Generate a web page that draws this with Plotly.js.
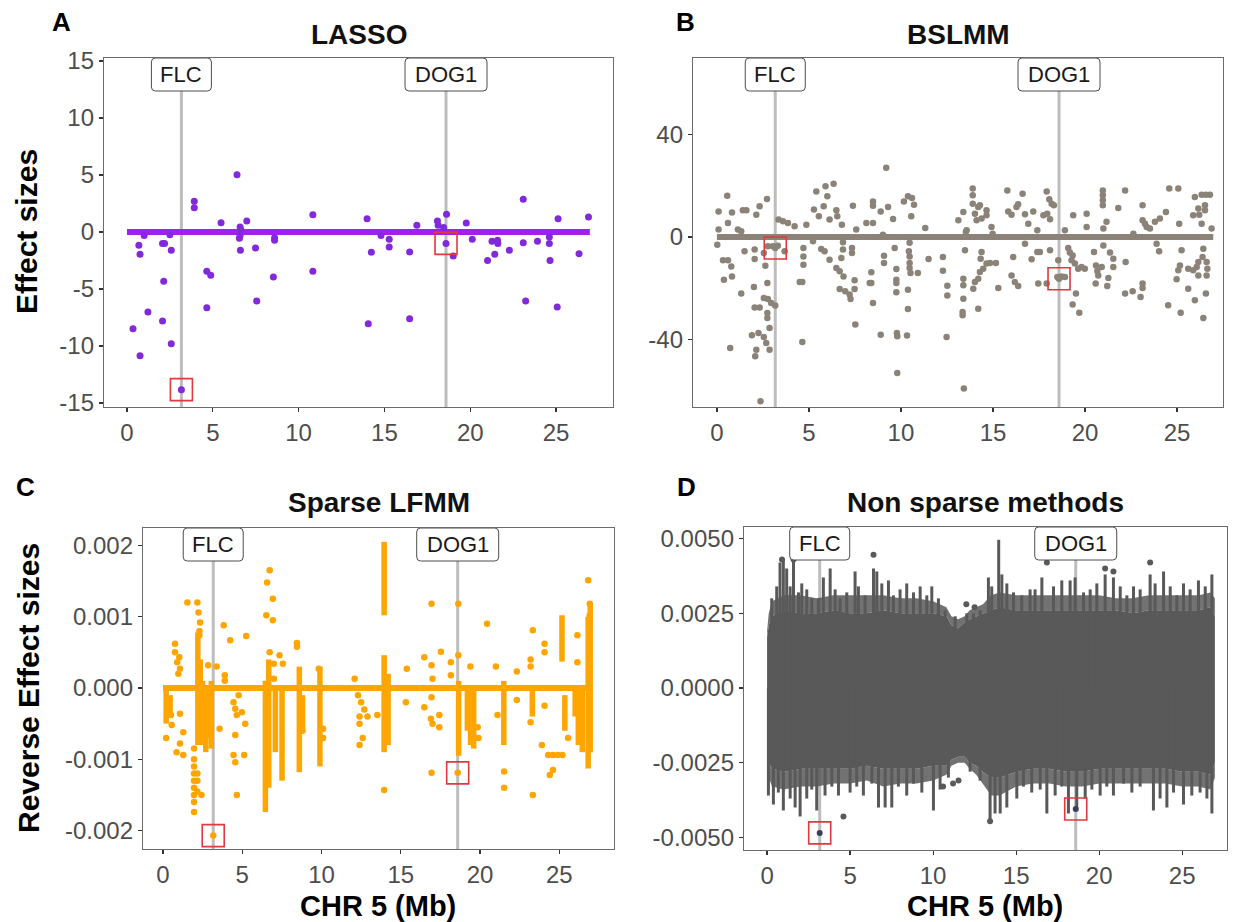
<!DOCTYPE html>
<html><head><meta charset="utf-8">
<script src="https://cdn.plot.ly/plotly-3.0.1.min.js"></script>
<style>html,body{margin:0;padding:0;background:#fff}#chart{width:1238px;height:922px}</style>
</head><body><div id="chart"></div>
<script>
// ================= DATA =================
const xTickVals = [0, 5, 10, 15, 20, 25];
const xTickText = ["0", "5", "10", "15", "20", "25"];
const genes = ["FLC", "DOG1"];
const genePos = [3.17, 18.59];
const chrSpan = [0, 26.97];

const panelTitles = ["LASSO", "BSLMM", "Sparse LFMM", "Non sparse methods"];
const panelLetters = ["A", "B", "C", "D"];

// --- A: LASSO ---
const lassoTickVals = [-15, -10, -5, 0, 5, 10, 15];
const lassoTickText = ["-15", "-10", "-5", "0", "5", "10", "15"];
const lassoX = [0.69,0.76,0.35,0.76,1.22,2.07,2.19,2.14,2.07,2.58,
  2.58,3.92,3.92,4.65,4.88,4.65,5.48,6.41,6.59,6.59,
  6.55,6.63,6.61,6.98,7.49,7.56,8.53,8.6,8.6,10.83,
  10.83,13.99,14.06,14.24,15.28,15.28,16.47,16.47,16.89,18.09,
  18.13,18.62,19.01,19.77,20.12,21.01,21.27,21.43,21.59,21.61,
  22.28,23.09,23.09,23.23,23.92,24.61,24.61,24.65,25.12,25.07,
  26.34,26.89,1.0,2.5,14.8,18.45];
const lassoY = [-1.17,-1.96,-8.48,-10.85,-7.02,-1.02,-1.02,-4.33,-7.81,-1.61,
  -9.8,2.69,2.13,-3.45,-3.8,-6.64,0.82,5.03,0.44,-0.3,
  -0.55,0.2,-1.61,0.96,-1.4,-6.05,-3.95,-0.5,-0.73,1.52,
  -3.45,1.17,-8.04,-1.78,-0.64,-1.32,-1.75,-7.6,0.58,0.96,
  0.58,1.55,-2.1,0.79,-0.64,-2.49,-0.82,-1.96,-0.73,-1.02,
  -1.61,2.87,-0.94,-6.05,-0.82,-0.44,-1.02,-2.49,1.17,-6.58,
  -1.9,1.32,-0.3,-0.25,-0.3,0.4];
const lassoHitY = [-13.83, -1.0];

// --- B: BSLMM ---
const bslmmTickVals = [-40, 0, 40];
const bslmmTickText = ["-40", "0", "40"];
const bslmmX = [0.56,0.09,0.09,0.02,0.6,0.82,1.41,1.6,1.14,1.32,
  0.33,0.6,0.78,0.38,0.82,1.32,0.72,1.5,2.05,2.05,
  2.01,2.14,2.32,2.72,2.55,2.63,2.74,2.05,2.32,2.55,
  2.77,2.95,3.17,2.74,2.74,2.86,1.9,2.26,2.55,2.68,
  2.86,2.14,2.08,2.37,2.77,3.04,3.31,3.68,3.35,3.59,
  3.86,4.22,4.7,4.7,4.7,4.5,4.64,4.64,4.86,5.22,
  5.4,5.27,5.54,5.8,5.9,6.0,6.34,5.67,5.85,6.12,
  6.12,6.49,6.54,6.79,6.85,6.85,6.76,6.49,6.67,6.88,
  6.67,6.97,7.21,7.26,7.34,7.34,7.39,7.48,7.48,7.52,
  7.57,8.12,8.48,8.48,8.48,8.39,8.39,8.48,8.3,8.9,
  8.9,9.02,9.08,9.08,9.3,9.2,9.57,9.66,9.75,9.75,
  9.75,9.75,9.78,9.8,9.8,10.16,10.38,10.6,10.71,10.56,
  10.47,10.43,10.47,10.47,10.47,10.52,10.92,10.38,10.38,10.33,
  11.32,11.5,12.28,12.28,12.52,12.52,12.48,
  13.39,13.39,13.39,13.35,13.35,13.42,13.12,13.39,13.53,13.48,
  13.57,13.9,13.9,13.9,14.02,14.2,14.29,14.38,14.11,13.93,
  14.02,14.2,14.29,14.47,14.33,14.38,14.65,14.84,15.16,14.65,
  14.65,14.2,14.92,14.98,15.29,15.78,15.83,16.01,16.1,16.01,
  16.19,16.37,16.37,16.28,16.61,16.74,16.74,16.92,17.1,17.19,
  17.41,17.41,17.55,17.46,17.92,18.06,18.19,18.31,17.74,17.95,
  18.1,18.1,18.55,18.5,18.73,18.91,17.92,18.91,19.09,19.18,
  19.33,19.27,19.45,19.63,19.81,19.99,19.36,19.51,19.33,19.69,
  20.09,20.09,20.49,20.6,20.67,20.72,20.58,20.91,21.0,20.97,
  20.97,20.97,20.97,21.0,21.17,21.27,21.21,21.36,21.54,21.54,
  21.81,22.18,22.21,22.18,22.59,22.63,23.13,23.13,23.26,23.35,
  23.13,23.13,23.02,23.53,23.8,24.07,24.4,24.03,23.89,24.58,
  25.07,25.12,24.52,24.98,25.07,25.16,25.25,25.2,25.61,25.61,
  25.97,25.88,25.97,26.16,26.21,26.34,26.57,26.79,26.52,26.52,
  26.34,26.43,26.39,26.16,26.07,25.88,26.16,26.61,26.65,26.61,
  26.57,26.43,26.88];
const bslmmY = [16.1,10.0,2.9,-3.0,5.5,9.6,10.4,10.4,2.9,2.2,
  -9.1,-9.1,-11.5,-16.7,-15.4,-22.1,-43.4,-5.6,-4.9,-8.6,
  -19.5,8.7,12.0,14.8,-6.3,-11.2,-18.0,-27.5,-27.5,-23.8,
  -24.2,-25.8,-26.8,-29.7,-31.6,-35.5,-38.4,-37.5,-39.1,-41.4,
  -44.0,-44.0,-46.6,-64.2,-3.6,-3.6,-3.4,-5.6,6.8,6.1,
  5.5,4.2,-4.3,-7.6,-10.8,-17.6,-17.6,-41.0,4.8,-1.7,
  17.8,10.7,8.1,12.0,19.8,15.9,20.8,-4.7,-5.6,-8.9,
  6.8,10.4,8.1,4.8,-2.1,-4.9,-8.2,-12.1,-13.4,-15.4,
  -20.3,-21.2,-22.5,-24.2,-4.3,-6.3,12.2,-16.9,-20.3,-34.2,
  2.9,5.5,13.9,12.2,5.5,-13.8,-18.0,-25.8,-18.0,10.0,
  -38.2,0.9,-7.3,-10.2,11.7,27.0,7.0,-4.3,-12.5,-16.7,
  -18.0,-21.6,-37.5,-38.8,-53.1,13.9,15.9,15.2,12.6,8.1,
  -2.3,-5.6,-7.6,-10.2,-12.1,-14.1,-14.1,-20.6,-28.1,-38.5,
  3.5,-8.6,-7.8,-13.2,-19.0,-22.9,-39.1,
  -16.3,-18.9,-24.1,-29.3,-30.6,-59.2,6.5,9.8,2.0,-5.2,
  2.6,18.9,16.3,13.0,9.1,11.7,12.4,7.2,6.5,-20.2,
  -17.6,-16.3,-13.7,-12.4,-8.5,-5.9,-10.4,-10.2,-10.2,10.4,
  8.5,-28.0,3.9,1.3,-19.9,18.2,10.0,8.7,-7.8,-15.0,
  -17.6,-19.1,12.8,11.7,16.9,8.9,-2.6,5.2,-8.7,10.0,
  2.6,-5.9,-5.9,-18.2,17.8,14.7,13.0,12.4,8.5,9.1,
  6.9,-5.2,-9.1,-15.6,-15.4,-15.6,-18.2,2.6,-4.3,-6.1,
  -7.2,-9.1,-10.4,-12.4,-11.7,-12.4,8.5,-22.1,-26.4,-29.6,
  9.1,3.9,-5.9,-11.1,-13.3,-15.0,-18.2,-11.7,-3.3,18.2,
  16.3,14.3,12.4,3.3,5.9,-16.0,-19.1,-6.1,-8.5,-11.7,
  11.3,18.2,-9.8,-22.1,-21.2,1.3,12.4,6.5,5.2,3.9,
  -18.2,-19.9,-23.4,3.3,5.9,7.2,9.8,-5.6,-2.6,18.9,
  18.9,5.2,-26.7,-16.5,-13.0,-11.1,-5.2,-29.6,-12.4,-20.2,
  -24.7,8.5,15.6,11.1,8.7,16.5,16.5,16.5,12.4,10.4,
  5.2,-4.6,-7.8,-9.8,-11.7,-13.0,-15.0,-9.8,-12.4,-15.0,
  -22.1,-31.6,3.3];
const bslmmHitY = [-4.3, -16.3];

// --- C: Sparse LFMM ---
const lfmmTickVals = [-0.002, -0.001, 0, 0.001, 0.002];
const lfmmTickText = ["-0.002", "-0.001", "0.000", "0.001", "0.002"];
const lfmmX = [0.76,0.76,0.9,1.03,1.07,0.97,0.86,1.07,1.28,1.28,
  1.07,0.2,0.55,0.5,1.54,2.17,2.24,2.34,2.3,2.3,
  1.96,1.96,1.96,1.96,1.96,1.96,1.96,1.96,1.96,2.17,
  2.17,2.17,2.43,2.85,3.38,3.57,3.83,3.9,3.9,4.24,
  4.45,4.56,4.66,4.56,4.45,4.56,4.66,4.77,4.98,5.19,
  5.25,5.12,6.57,6.73,6.52,6.93,6.93,6.73,6.99,7.35,
  7.56,7.0,8.45,8.45,8.8,9.83,10.1,10.1,12.09,12.3,
  12.5,12.7,12.9,12.4,12.4,12.4,12.6,13.52,13.95,15.38,
  15.32,16.48,16.48,16.94,16.94,17.0,16.94,16.94,17.53,17.43,
  17.43,16.9,17.0,18.16,18.16,18.63,18.63,19.39,20.44,21.0,
  21.1,21.52,21.52,22.32,22.32,23.19,23.19,23.33,23.19,23.33,
  23.9,24.07,24.07,24.07,24.3,24.6,24.9,25.2,24.6,24.4,
  25.55,26.14,26.14,26.82,26.92,26.92,19.85,19.9];
const lfmmY = [0.00062,0.0005,0.00036,0.00043,0.00027,0.0002,-0.0009,-0.00078,-0.00094,-0.00062,
  -0.00036,-0.0007,-0.00052,-0.00038,0.0012,0.0012,0.00106,0.00092,0.0008,0.00074,
  -0.00085,-0.001,-0.0011,-0.0012,-0.0013,-0.0014,-0.0015,-0.0016,-0.00174,-0.0012,
  -0.0013,-0.00145,-0.0015,0.00032,0.0003,-0.00057,0.00088,0.00018,0.0001,0.00067,
  -0.0002,-0.00029,-0.00038,-0.00066,-0.00094,-0.00104,-0.0015,-0.0001,-0.00034,-0.0005,
  0.00073,-0.00094,0.00148,0.00165,0.00102,0.00095,0.00125,0.0005,0.00034,0.00046,
  0.00034,0.00013,0.00063,0.00058,-0.0006,0.00027,-0.00057,-0.0007,0.00013,-0.0001,
  -0.0002,-0.0003,-0.0004,-0.0004,-0.0005,-0.0008,-0.0007,-0.00038,-0.00143,0.00027,
  -0.0002,0.00043,-0.00027,0.00118,0.00032,0.00013,-0.00013,-0.00119,0.00051,-0.00038,
  -0.00055,-0.00043,-0.0005,0.00036,0.00018,0.00118,0.00046,0.0003,0.0009,0.0003,
  -0.00038,-0.00117,-0.0014,0.00023,-0.00017,0.0004,0.0003,0.00081,-0.00048,-0.0015,
  -0.0008,0.00062,0.0005,-0.00025,-0.00094,-0.00094,-0.00094,-0.00094,-0.00115,-0.00122,
  -0.0007,0.00074,0.00036,0.00151,0.00118,0.00102,-0.00055,-0.0007];
// dense stacks of points (position, lowest, highest)
const lfmmStackX  = [0.2,0.45,2.2,2.35,2.5,2.7,2.9,3.05,6.46,6.67,7.09,7.51,8.6,8.8,9.9,13.95,13.95,14.2,18.65,19.2,19.4,19.6,21.5,23.3,25.17,25.35,26.0,26.2,26.45,26.82,26.95];
const lfmmStackLo = [-0.0005,-0.0004,-0.0008,-0.0008,-0.0008,-0.0009,-0.0007,-0.00085,-0.00174,-0.0014,-0.0009,-0.0013,-0.00118,-0.0006,-0.0011,0.00102,-0.0009,-0.0008,-0.00095,-0.0006,-0.0008,-0.00085,-0.0008,-0.0004,0.00037,-0.0006,-0.0004,-0.0008,-0.0009,-0.00113,-0.0009];
const lfmmStackHi = [0,-0.0001,0.00078,0.0004,0.0001,0,0,0.0001,0.0001,0.0004,0,0,0.0003,-0.0001,0.0003,0.00205,0.00046,0.0002,0.0001,0,0,0,0.0001,0,0.00102,-0.0001,0,0,0,0.001,0.0012];
const lfmmHitY = [-0.00207, -0.00119];

// --- D: Non sparse methods ---
const nsTickVals = [-0.005, -0.0025, 0, 0.0025, 0.005];
const nsTickText = ["-0.0050", "-0.0025", "0.0000", "0.0025", "0.0050"];
// solid core of the cloud and the outer, speckled edge of the cloud
const nsBandX    = [0.0,0.1,0.3,1,2,3,4,5,6,7,8,9,10,10.8,11.1,11.5,11.9,12.2,12.6,13,13.5,14,15,16,17,18,19,20,21,22,23,24,25,26,26.7,26.97];
const nsBandUp   = [0.0017,0.0021,0.0024,0.0026,0.0025,0.0025,0.0026,0.0025,0.0025,0.0026,0.0025,0.0025,0.0025,0.0024,0.0021,0.0020,0.0022,0.0023,0.0024,0.0025,0.0026,0.0027,0.0026,0.0026,0.0026,0.0026,0.0026,0.0026,0.0026,0.0025,0.0026,0.0026,0.0026,0.0026,0.0027,0.0024];
const nsBandLo   = [-0.0021,-0.0025,-0.0027,-0.0028,-0.0027,-0.0027,-0.0027,-0.0027,-0.0026,-0.0027,-0.0027,-0.0027,-0.0026,-0.0026,-0.0024,-0.0023,-0.0023,-0.0025,-0.0026,-0.0028,-0.0030,-0.0030,-0.0028,-0.0027,-0.0027,-0.0028,-0.0028,-0.0027,-0.0027,-0.0027,-0.0027,-0.0027,-0.0028,-0.0028,-0.0029,-0.0025];
const nsFringeUp = [0.0019,0.0025,0.0029,0.0031,0.0031,0.0030,0.0031,0.0031,0.0031,0.0031,0.0030,0.0030,0.0029,0.0027,0.0024,0.0023,0.0024,0.0026,0.0027,0.0028,0.0031,0.0032,0.0031,0.0031,0.0031,0.0031,0.0031,0.0031,0.0030,0.0030,0.0031,0.0031,0.0031,0.0031,0.0032,0.0030];
const nsFringeLo = [-0.0024,-0.0030,-0.0033,-0.0034,-0.0033,-0.0033,-0.0032,-0.0032,-0.0031,-0.0033,-0.0032,-0.0032,-0.0031,-0.0029,-0.0026,-0.0025,-0.0025,-0.0027,-0.0029,-0.0032,-0.0036,-0.0036,-0.0033,-0.0032,-0.0032,-0.0033,-0.0033,-0.0032,-0.0032,-0.0032,-0.0032,-0.0032,-0.0033,-0.0033,-0.0034,-0.0030];
const nsUpX = [0.28,0.58,0.78,0.98,1.18,1.39,1.59,1.89,2.09,2.39,2.69,3.09,3.39,3.80,4.10,4.40,4.80,5.30,5.50,5.90,6.41,6.61,6.91,7.31,7.61,8.01,8.41,8.82,9.22,9.62,9.92,10.32,10.72,11.33,12.03,12.43,12.83,13.33,13.53,13.95,14.14,14.44,14.84,15.34,15.84,16.14,16.55,17.25,17.75,18.25,18.55,19.06,19.46,19.86,20.36,20.86,21.27,21.67,22.07,22.47,23.07,23.37,23.88,24.28,24.68,25.08,25.48,25.98,26.39,26.79];
const nsUpTop = [0.0030,0.0034,0.0042,0.0043,0.0040,0.0034,0.0043,0.0032,0.0035,0.0033,0.0030,0.0030,0.0037,0.0040,0.0033,0.0030,0.0032,0.0039,0.0034,0.0031,0.0040,0.0039,0.0035,0.0036,0.0031,0.0033,0.0035,0.0032,0.0034,0.0031,0.0034,0.0030,0.0026,0.0024,0.0025,0.0025,0.0026,0.0037,0.0034,0.00496,0.0038,0.0035,0.0032,0.0031,0.0033,0.0033,0.0037,0.0034,0.0036,0.0036,0.0037,0.0032,0.0033,0.0035,0.0038,0.0037,0.0034,0.0031,0.0034,0.0033,0.0038,0.0035,0.0039,0.0034,0.0031,0.0035,0.0033,0.0036,0.0034,0.0038];
const nsLoX = [0.08,0.38,0.68,0.98,1.39,1.69,1.99,2.39,2.69,2.99,3.49,3.90,4.30,5.00,5.40,5.80,6.31,6.71,7.11,7.51,7.91,8.41,8.82,9.32,10.02,10.42,10.92,12.23,12.83,13.43,13.73,14.04,14.44,15.04,15.44,15.94,16.45,16.85,17.35,17.75,18.15,18.65,19.16,19.56,20.06,20.46,20.86,21.47,21.97,22.47,23.27,23.67,24.08,24.48,25.08,25.58,26.08,26.49,26.79];
const nsLoBot = [-0.0036,-0.0039,-0.0035,-0.0041,-0.0037,-0.0040,-0.0043,-0.0037,-0.0034,-0.0041,-0.0036,-0.0033,-0.0036,-0.0035,-0.0033,-0.0036,-0.0032,-0.0040,-0.0040,-0.0040,-0.0033,-0.0036,-0.0032,-0.0035,-0.0041,-0.0034,-0.0030,-0.0028,-0.0031,-0.0045,-0.0042,-0.0042,-0.0040,-0.0037,-0.0033,-0.0035,-0.0034,-0.0042,-0.0036,-0.0033,-0.0042,-0.0041,-0.0037,-0.0034,-0.0036,-0.0033,-0.0036,-0.0032,-0.0035,-0.0033,-0.0041,-0.0037,-0.0040,-0.0035,-0.0039,-0.0036,-0.0035,-0.0037,-0.0042];
const nsX = [6.41,16.85,20.36,20.86,23.07,4.6,11.53,13.43,0.9,1.59,12.0,12.5,10.6,11.2];
const nsY = [0.00446,0.0042,0.0040,0.0039,0.0042,-0.0043,-0.0031,-0.00446,0.0043,0.0043,0.0028,0.0027,-0.0033,-0.0032];
const nsHitY = [-0.00485, -0.00405];

// ================= LAYOUT / DRAWING =================
const W = 1238, H = 922;
const FONT = "Liberation Sans, Arial, Helvetica, sans-serif";
const px = p => p / W, py = p => 1 - p / H;

const panels = [
  {box:{l:104,r:613,t:58,b:407}, xr:[-1.34,28.32], yr:[-15.35,15.26], tv:lassoTickVals, tt:lassoTickText, col:"#8229DC", lineCol:"#A020F0", ms:7},
  {box:{l:693,r:1223,t:58,b:407}, xr:[-1.3,27.5], yr:[-66.4,69.9], tv:bslmmTickVals, tt:bslmmTickText, col:"#8B8378", lineCol:"#8B8378", ms:6.5},
  {box:{l:143,r:614,t:528,b:849}, xr:[-1.26,28.45], yr:[-0.002258,0.002244], tv:lfmmTickVals, tt:lfmmTickText, col:"#FFA500", lineCol:"#FFA500", ms:6.5},
  {box:{l:744,r:1227,t:527,b:850}, xr:[-1.39,27.7], yr:[-0.005422,0.005388], tv:nsTickVals, tt:nsTickText, col:"#595959", lineCol:"#595959", ms:6}
];
const labelBoxW = [60, 82], labelBoxH = 33, labelR = 4;

const traces = [];
const layout = {
  width: W, height: H, margin:{l:0,r:0,t:0,b:0},
  paper_bgcolor:"#fff", plot_bgcolor:"#fff", showlegend:false,
  font:{family:FONT, color:"#000"},
  annotations:[], shapes:[]
};

function stackTrace(xs, lo, hi, xa, ya, color, w){
  const X = [], Y = [];
  xs.forEach((x,i)=>{ X.push(x,x,null); Y.push(lo[i],hi[i],null); });
  return {x:X, y:Y, xaxis:xa, yaxis:ya, mode:"lines", line:{color:color, width:w}, hoverinfo:"skip"};
}
function roundRectPath(w, h, r){
  const a = w/2;
  return `M ${-a+r},0 L ${a-r},0 Q ${a},0 ${a},${-r} L ${a},${-h+r} Q ${a},${-h} ${a-r},${-h} ` +
         `L ${-a+r},${-h} Q ${-a},${-h} ${-a},${-h+r} L ${-a},${-r} Q ${-a},0 ${-a+r},0 Z`;
}

const pointSets = [[lassoX,lassoY],[bslmmX,bslmmY],[lfmmX,lfmmY],[nsX,nsY]];
const hitSets = [lassoHitY, bslmmHitY, lfmmHitY, nsHitY];

panels.forEach((p,i)=>{
  const n = i===0 ? "" : String(i+1);
  const xa = "x"+n, ya = "y"+n;
  const axBase = {
    showgrid:false, zeroline:false, showline:true, mirror:true,
    linecolor:"#6b6b6b", linewidth:1.2,
    ticks:"outside", ticklen:4, tickwidth:1.2, tickcolor:"#333",
    tickfont:{family:FONT, size:24, color:"#4D4D4D"}, fixedrange:true
  };
  layout["xaxis"+n] = Object.assign({}, axBase, {
    domain:[px(p.box.l), px(p.box.r)], range:p.xr, anchor:ya,
    tickmode:"array", tickvals:xTickVals, ticktext:xTickText
  });
  layout["yaxis"+n] = Object.assign({}, axBase, {
    domain:[py(p.box.b), py(p.box.t)], range:p.yr, anchor:xa,
    tickmode:"array", tickvals:p.tv, ticktext:p.tt
  });

  // gene lines
  genePos.forEach(g=>{
    layout.shapes.push({type:"line", xref:xa, yref:ya+" domain", x0:g, x1:g, y0:0, y1:1,
      line:{color:"#BDBDBD", width:3}, layer:"below"});
  });

  // D dense cloud
  if(i===3){
    const fr = "rgba(89,89,89,0.85)";
    traces.push({x:nsBandX, y:nsFringeUp, xaxis:xa, yaxis:ya, mode:"lines", line:{width:0, color:fr}, hoverinfo:"skip"});
    traces.push({x:nsBandX, y:nsBandUp, xaxis:xa, yaxis:ya, mode:"lines", line:{width:0, color:fr}, fill:"tonexty", fillcolor:fr, hoverinfo:"skip"});
    traces.push({x:nsBandX, y:nsBandLo, xaxis:xa, yaxis:ya, mode:"lines", line:{width:0, color:p.col}, fill:"tonexty", fillcolor:p.col, hoverinfo:"skip"});
    traces.push({x:nsBandX, y:nsFringeLo, xaxis:xa, yaxis:ya, mode:"lines", line:{width:0, color:fr}, fill:"tonexty", fillcolor:fr, hoverinfo:"skip"});
    traces.push(stackTrace(nsUpX, nsUpX.map(()=>0), nsUpTop, xa, ya, p.col, 3));
    traces.push(stackTrace(nsLoX, nsLoX.map(()=>0), nsLoBot, xa, ya, p.col, 3));
  }
  // zero line (many zero-effect SNPs)
  if(i!==3){
    traces.push({x:chrSpan, y:[0,0], xaxis:xa, yaxis:ya, mode:"lines", line:{color:p.lineCol, width:6}, hoverinfo:"skip"});
  }
  if(i===2){
    traces.push(stackTrace(lfmmStackX, lfmmStackLo, lfmmStackHi, xa, ya, p.col, 5.5));
  }
  // points
  traces.push({x:pointSets[i][0], y:pointSets[i][1], xaxis:xa, yaxis:ya, mode:"markers",
    marker:{color:p.col, size:p.ms, line:{width:0}}, hoverinfo:"skip"});
  // highlighted SNPs
  traces.push({x:genePos, y:hitSets[i], xaxis:xa, yaxis:ya, mode:"markers",
    marker:{color: i===3 ? "#3a3f5c" : p.col, size:p.ms, line:{width:0}}, hoverinfo:"skip"});
  traces.push({x:genePos, y:hitSets[i], xaxis:xa, yaxis:ya, mode:"markers",
    marker:{symbol:"square-open", color:"#E0393E", size:22, line:{width:1.6}}, hoverinfo:"skip"});

  // gene labels (rounded boxes)
  genes.forEach((g,k)=>{
    layout.shapes.push({type:"path", xref:xa, yref:ya, xsizemode:"pixel", ysizemode:"pixel",
      xanchor:genePos[k], yanchor:p.yr[1], path:roundRectPath(labelBoxW[k], labelBoxH, labelR),
      fillcolor:"#ffffff", line:{color:"#4d4d4d", width:1}, layer:"above"});
    layout.annotations.push({xref:xa, yref:ya+" domain", x:genePos[k], y:1, yanchor:"middle", xanchor:"center",
      yshift:-labelBoxH/2, text:g, showarrow:false, font:{family:FONT, size:22, color:"#1a1a1a"}});
  });

  // panel title
  layout.annotations.push({xref:"paper", yref:"paper", x:px((p.box.l+p.box.r)/2), y:py(i<2?35:503),
    text:"<b>"+panelTitles[i]+"</b>", showarrow:false, xanchor:"center", yanchor:"middle",
    font:{family:FONT, size:28, color:"#111"}});
});

// panel letters
const letterPos = [[61,22],[685,22],[25,487],[686,487]];
panelLetters.forEach((L,i)=>{
  layout.annotations.push({xref:"paper", yref:"paper", x:px(letterPos[i][0]), y:py(letterPos[i][1]),
    text:"<b>"+L+"</b>", showarrow:false, xanchor:"center", yanchor:"middle",
    font:{family:FONT, size:26, color:"#000"}});
});

// axis titles
const axisTitles = [
  {t:"Effect sizes", x:27, y:232, rot:-90, s:30},
  {t:"Reverse Effect sizes", x:28, y:688, rot:-90, s:30},
  {t:"CHR 5 (Mb)", x:378, y:906, rot:0, s:29},
  {t:"CHR 5 (Mb)", x:985, y:906, rot:0, s:29}
];
axisTitles.forEach(a=>{
  layout.annotations.push({xref:"paper", yref:"paper", x:px(a.x), y:py(a.y), textangle:a.rot,
    text:"<b>"+a.t+"</b>", showarrow:false, xanchor:"center", yanchor:"middle",
    font:{family:FONT, size:a.s, color:"#000"}});
});

Plotly.newPlot("chart", traces, layout, {staticPlot:true, displayModeBar:false});
</script></body></html>
